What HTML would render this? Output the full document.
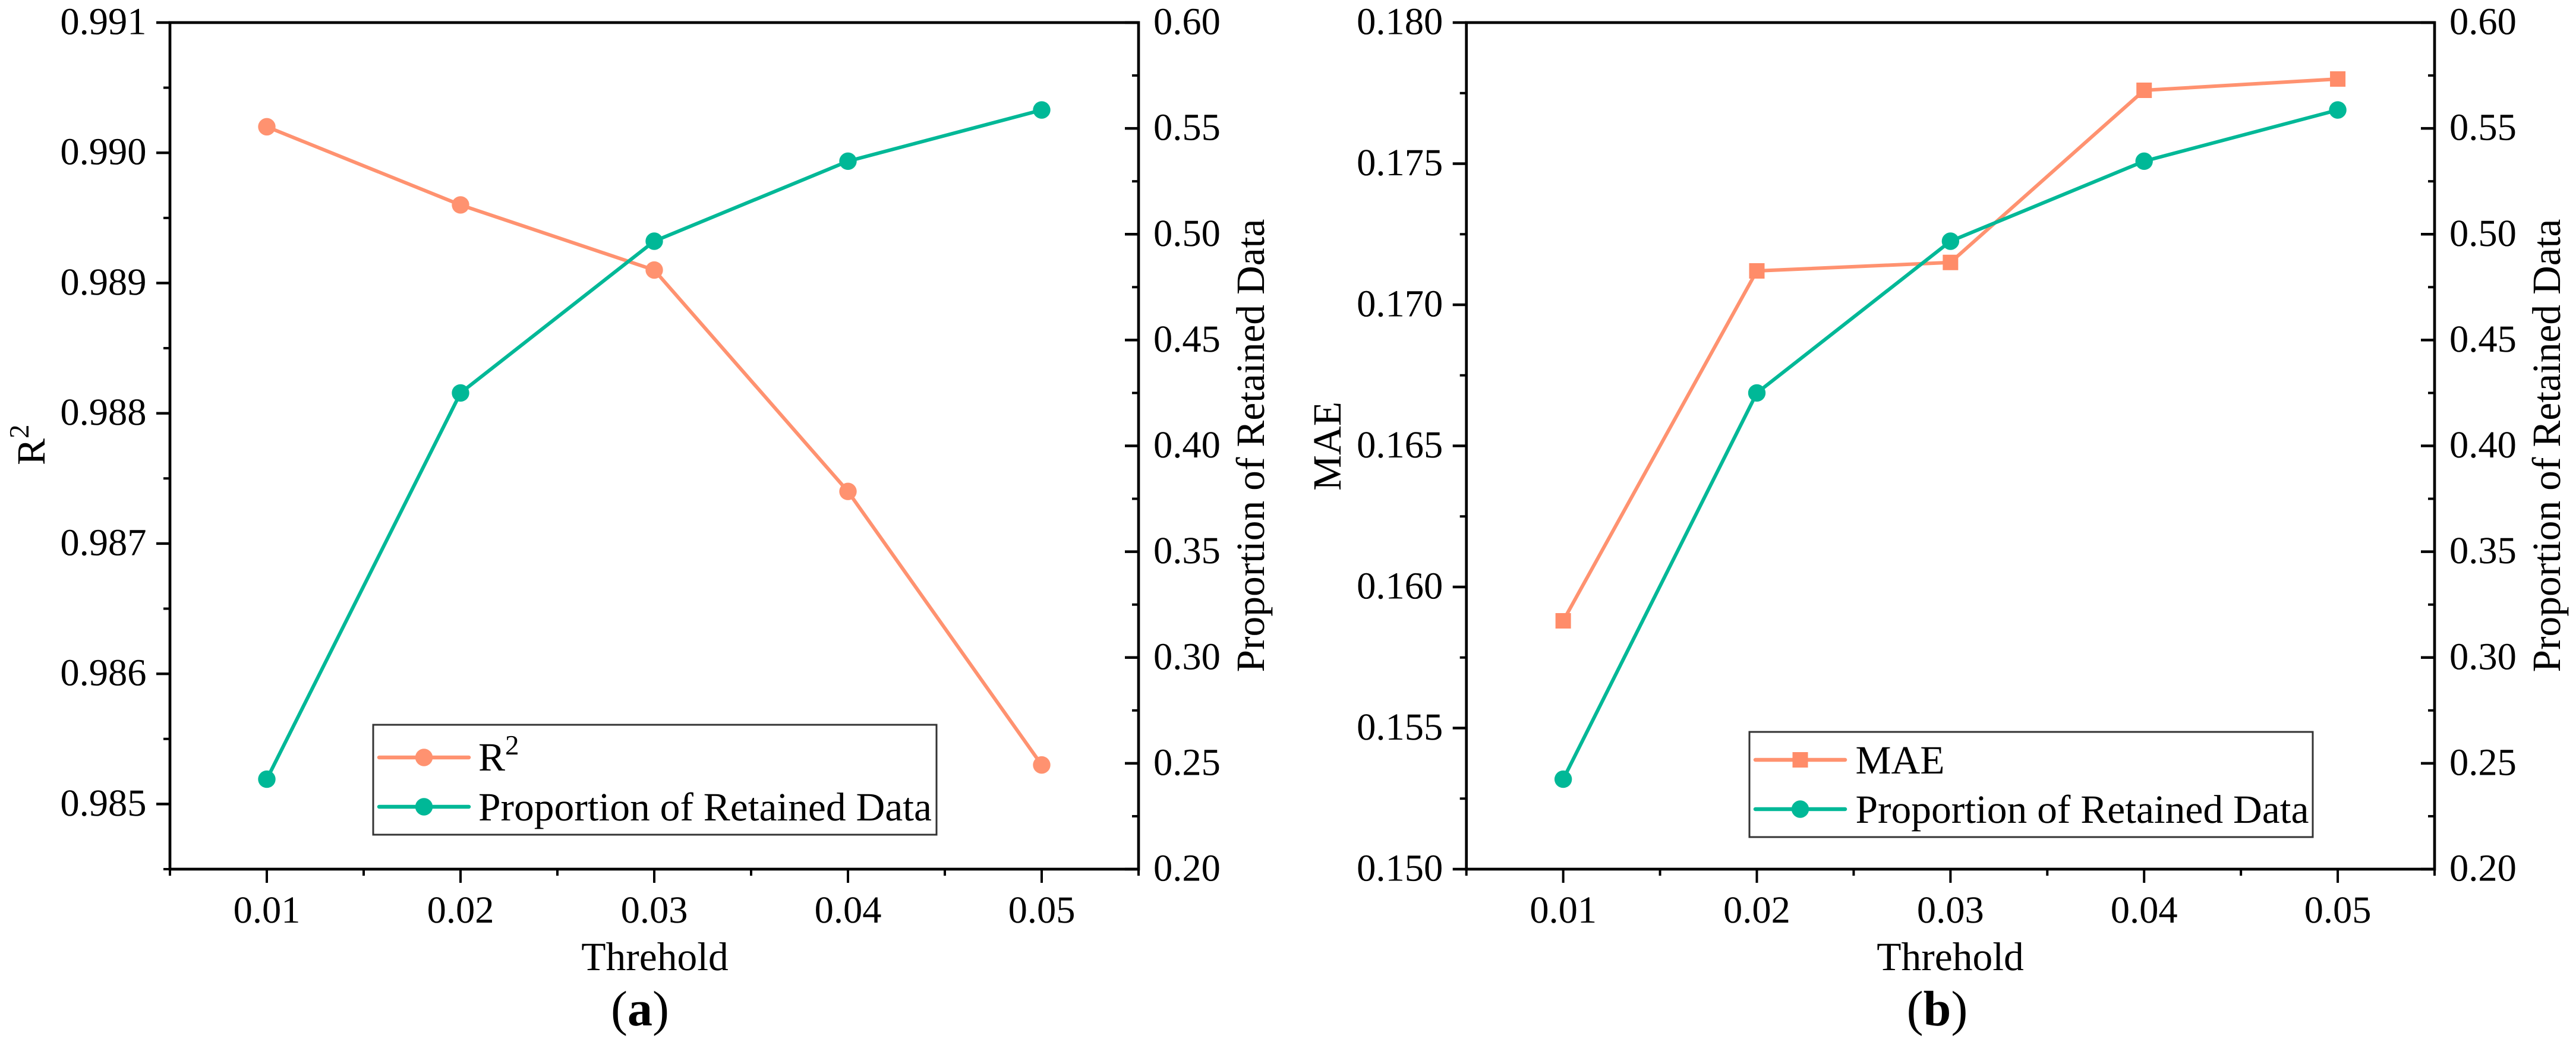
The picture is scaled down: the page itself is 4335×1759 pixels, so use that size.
<!DOCTYPE html>
<html lang="en">
<head>
<meta charset="utf-8">
<title>Threshold vs R2, MAE and Proportion of Retained Data</title>
<style>
html,body{margin:0;padding:0;background:#fff;width:4335px;height:1759px;overflow:hidden}
svg{display:block}
text{font-family:"Liberation Serif","Times New Roman",serif;fill:#000;text-rendering:geometricPrecision}
.tick{font-size:64.5px}
.title{font-size:67.5px}
.caption{font-size:84px}
</style>
</head>
<body>
<svg id="figure" xmlns="http://www.w3.org/2000/svg" width="4335" height="1759" viewBox="0 0 4335 1759">
  <g id="panel-a"></g>
  <g id="panel-b"></g>

  <text class="title" transform="translate(75 783) rotate(-90)">R<tspan font-size="47" dy="-27">2</tspan></text>
  <text class="title" text-anchor="middle" transform="translate(2127 750) rotate(-90)">Proportion of Retained Data</text>
  <text class="title" text-anchor="middle" x="1102" y="1633">Threhold</text>
  <text class="caption" text-anchor="middle" x="1077" y="1726">(<tspan font-weight="bold">a</tspan>)</text>

  <text class="title" text-anchor="middle" transform="translate(2256 751) rotate(-90)">MAE</text>
  <text class="title" text-anchor="middle" transform="translate(4308 750) rotate(-90)">Proportion of Retained Data</text>
  <text class="title" text-anchor="middle" x="3282" y="1633">Threhold</text>
  <text class="caption" text-anchor="middle" x="3260" y="1726">(<tspan font-weight="bold">b</tspan>)</text>

  <g>
    <rect x="628" y="1220" width="948" height="185" fill="#fff" stroke="#333" stroke-width="3"/>
    <line x1="638" y1="1275" x2="789" y2="1275" stroke="#FF9270" stroke-width="6.5" stroke-linecap="round"/>
    <circle cx="713.5" cy="1275" r="14.7" fill="#FF9270"/>
    <text class="title" x="805" y="1297">R<tspan font-size="47" dy="-27">2</tspan></text>
    <line x1="638" y1="1358" x2="789" y2="1358" stroke="#00B897" stroke-width="6.5" stroke-linecap="round"/>
    <circle cx="713.5" cy="1358" r="14.7" fill="#00B897"/>
    <text class="title" x="805" y="1381">Proportion of Retained Data</text>
  </g>

  <g>
    <rect x="2944" y="1232" width="948" height="177" fill="#fff" stroke="#333" stroke-width="3"/>
    <line x1="2954" y1="1279" x2="3105" y2="1279" stroke="#FF9270" stroke-width="6.5" stroke-linecap="round"/>
    <rect x="3016.5" y="1266" width="26" height="26" fill="#FF8C69"/>
    <text class="title" x="3122.5" y="1302">MAE</text>
    <line x1="2954" y1="1362" x2="3105" y2="1362" stroke="#00B897" stroke-width="6.5" stroke-linecap="round"/>
    <circle cx="3029.5" cy="1362" r="14.7" fill="#00B897"/>
    <text class="title" x="3122.5" y="1385">Proportion of Retained Data</text>
  </g>
</svg>

<script>
// Chart data
const thresholds = [0.01, 0.02, 0.03, 0.04, 0.05];
const r2Values = [0.9902, 0.9896, 0.9891, 0.9874, 0.9853];
const maeValues = [0.1588, 0.1712, 0.1715, 0.1776, 0.178];
const retainedValues = [0.2425, 0.425, 0.4967, 0.5345, 0.5587];
const xTickLabels = ['0.01', '0.02', '0.03', '0.04', '0.05'];
const xMinorTicks = [0.005, 0.015, 0.025, 0.035, 0.045, 0.055];
const r2TickLabels = ['0.985', '0.986', '0.987', '0.988', '0.989', '0.990', '0.991'];
const r2MinorTicks = [0.9845, 0.9855, 0.9865, 0.9875, 0.9885, 0.9895, 0.9905];
const maeTickLabels = ['0.150', '0.155', '0.160', '0.165', '0.170', '0.175', '0.180'];
const maeMinorTicks = [0.1525, 0.1575, 0.1625, 0.1675, 0.1725, 0.1775];
const retainedTickLabels = ['0.20', '0.25', '0.30', '0.35', '0.40', '0.45', '0.50', '0.55', '0.60'];
const retainedMinorTicks = [0.225, 0.275, 0.325, 0.375, 0.425, 0.475, 0.525, 0.575];

const SVGNS = 'http://www.w3.org/2000/svg';
const ORANGE = '#FF9270';
const TEAL = '#00B897';
const PLOT_TOP = 38;
const PLOT_BOTTOM = 1463;

function el(tag, attrs, parent) {
  const node = document.createElementNS(SVGNS, tag);
  for (const key in attrs) node.setAttribute(key, attrs[key]);
  parent.appendChild(node);
  return node;
}

function linearScale(d0, d1, r0, r1) {
  return function (v) { return r0 + (v - d0) / (d1 - d0) * (r1 - r0); };
}

function drawTick(parent, x1, y1, x2, y2, width) {
  const tick = el('line', {x1: x1, y1: y1, x2: x2, y2: y2, stroke: '#000', 'stroke-width': width}, parent);
  
  
}

function drawLabel(parent, x, y, anchor, str) {
  const label = el('text', {x: x, y: y, 'text-anchor': anchor, class: 'tick'}, parent);
  label.textContent = str;
  
  
}

function drawSeries(parent, values, xScale, yScale, color, markerKind, seriesName) {
  const pts = values.map(function (v, i) { return xScale(thresholds[i]) + ',' + yScale(v); }).join(' ');
  const line = el('polyline', {points: pts, fill: 'none', stroke: color, 'stroke-width': 6, 'stroke-linejoin': 'round'}, parent);
  
  
  values.forEach(function (v, i) {
    const cx = xScale(thresholds[i]);
    const cy = yScale(v);
    let mark;
    if (markerKind === 'square') {
      mark = el('rect', {x: cx - 13, y: cy - 13, width: 26, height: 26, fill: '#FF8C69'}, parent);
    } else {
      mark = el('circle', {cx: cx, cy: cy, r: 14.7, fill: color}, parent);
    }
    
    
  });
}

function drawPanel(opts) {
  const g = document.getElementById(opts.id);
  const L = opts.left;
  const R = opts.right;
  const x = linearScale(0.005, 0.055, L, R);
  const y1 = linearScale(opts.y1Min, opts.y1Max, PLOT_BOTTOM, PLOT_TOP);
  const y2 = linearScale(0.2, 0.6, PLOT_BOTTOM, PLOT_TOP);

  // Frame
  const frame = el('rect', {x: L, y: PLOT_TOP, width: R - L, height: PLOT_BOTTOM - PLOT_TOP, fill: 'none', stroke: '#000', 'stroke-width': 4.7}, g);
  
  

  // X axis
  xTickLabels.forEach(function (lab) {
    const px = x(parseFloat(lab));
    drawTick(g, px, PLOT_BOTTOM, px, PLOT_BOTTOM + 23, 4);
    drawLabel(g, px, 1553, 'middle', lab);
  });
  xMinorTicks.forEach(function (v) {
    drawTick(g, x(v), PLOT_BOTTOM, x(v), PLOT_BOTTOM + 11, 4);
  });

  // Left Y axis
  opts.y1Labels.forEach(function (lab) {
    const py = y1(parseFloat(lab));
    drawTick(g, L - 23, py, L, py, 4.4);
    drawLabel(g, L - 39.5, py + 19.5, 'end', lab);
  });
  opts.y1Minor.forEach(function (v) {
    drawTick(g, L - 11, y1(v), L, y1(v), 4);
  });

  // Right Y axis
  retainedTickLabels.forEach(function (lab) {
    const py = y2(parseFloat(lab));
    drawTick(g, R - 23, py, R, py, 4.4);
    drawLabel(g, R + 25, py + 19.5, 'start', lab);
  });
  retainedMinorTicks.forEach(function (v) {
    drawTick(g, R - 11, y2(v), R, y2(v), 4);
  });

  // Series
  drawSeries(g, opts.y1Values, x, y1, ORANGE, opts.marker, opts.seriesName);
  drawSeries(g, retainedValues, x, y2, TEAL, 'circle', 'retained');
}

drawPanel({
  id: 'panel-a', left: 286, right: 1916,
  y1Min: 0.9845, y1Max: 0.991,
  y1Labels: r2TickLabels, y1Minor: r2MinorTicks,
  y1Values: r2Values, marker: 'circle', seriesName: 'r2'
});
drawPanel({
  id: 'panel-b', left: 2467.7, right: 4097,
  y1Min: 0.15, y1Max: 0.18,
  y1Labels: maeTickLabels, y1Minor: maeMinorTicks,
  y1Values: maeValues, marker: 'square', seriesName: 'mae'
});
</script>
</body>
</html>
